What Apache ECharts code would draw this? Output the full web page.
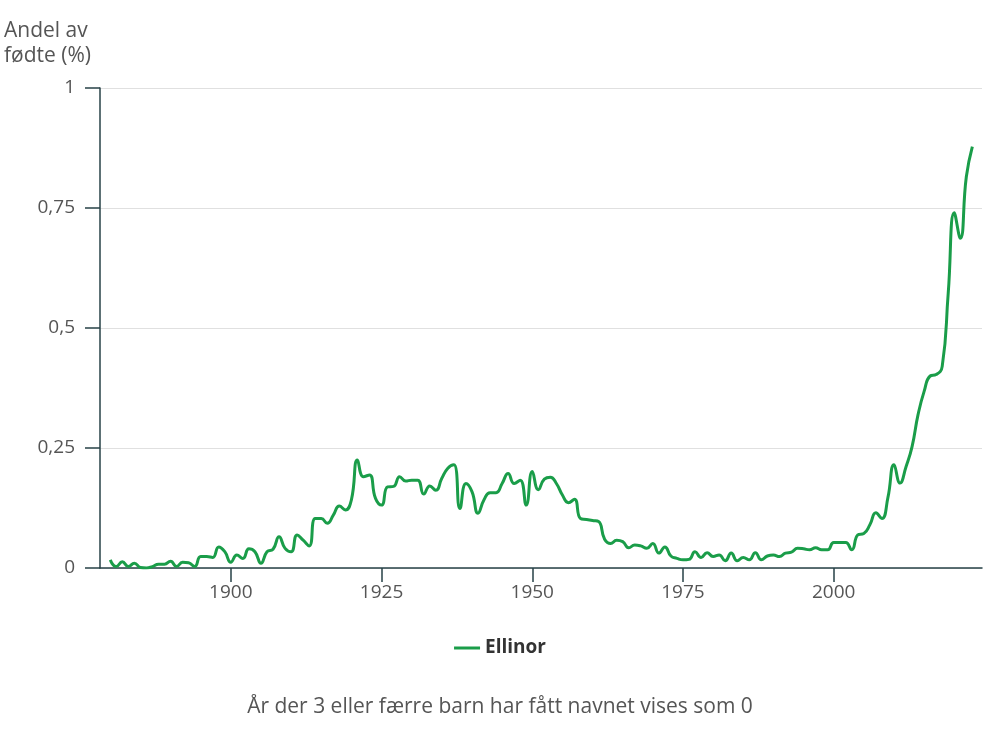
<!DOCTYPE html>
<html>
<head>
<meta charset="utf-8">
<script src="https://cdn.jsdelivr.net/npm/echarts@6/dist/echarts.min.js"></script>
<style>
html,body{margin:0;padding:0;background:#fff;}
#chart{width:1000px;height:750px;}
</style>
</head>
<body>
<div id="chart"></div>
<script>
const seriesName = 'Ellinor';
const firstYear = 1880;
const shares = [
  0.017, 0.003, 0.013, 0.003, 0.010, 0.001, 0.000, 0.003, 0.008, 0.008,
  0.014, 0.003, 0.012, 0.011, 0.003, 0.024, 0.024, 0.022, 0.044, 0.034,
  0.012, 0.027, 0.020, 0.040, 0.034, 0.010, 0.034, 0.039, 0.065, 0.041,
  0.034, 0.069, 0.058, 0.046, 0.103, 0.103, 0.093, 0.110, 0.129, 0.121,
  0.142, 0.225, 0.190, 0.194, 0.145, 0.131, 0.169, 0.170, 0.190, 0.181,
  0.183, 0.183, 0.154, 0.171, 0.162, 0.187, 0.208, 0.215, 0.124, 0.176,
  0.159, 0.114, 0.142, 0.157, 0.157, 0.176, 0.197, 0.176, 0.183, 0.131,
  0.201, 0.163, 0.185, 0.189, 0.176, 0.152, 0.136, 0.143, 0.103, 0.101,
  0.099, 0.097, 0.060, 0.051, 0.058, 0.055, 0.042, 0.048, 0.046, 0.041,
  0.051, 0.031, 0.044, 0.025, 0.020, 0.017, 0.018, 0.034, 0.022, 0.032,
  0.024, 0.027, 0.015, 0.031, 0.015, 0.022, 0.017, 0.032, 0.017, 0.025,
  0.027, 0.024, 0.031, 0.033, 0.041, 0.040, 0.038, 0.042, 0.038, 0.038,
  0.053, 0.053, 0.053, 0.038, 0.069, 0.072, 0.090, 0.115, 0.103, 0.147,
  0.215, 0.177, 0.211, 0.253, 0.320, 0.368, 0.400, 0.403, 0.420, 0.573,
  0.740, 0.687, 0.815, 0.878
];
const years = shares.map((_, i) => firstYear + i);
const xTickYears = [1900, 1925, 1950, 1975, 2000];
const yTicks = [0, 0.25, 0.5, 0.75, 1];
const yAxisTitle = 'Andel av\nfødte (%)';
const footnote = 'År der 3 eller færre barn har fått navnet vises som 0';

const fontFamily = '"Open Sans", "Noto Sans", sans-serif';
const chart = echarts.init(document.getElementById('chart'), null, {renderer: 'canvas'});
chart.setOption({
  animation: false,
  backgroundColor: '#ffffff',
  textStyle: {fontFamily: fontFamily},
  title: [
    {
      text: yAxisTitle,
      left: 4, top: 19,
      padding: 0,
      textStyle: {fontFamily: fontFamily, fontSize: 21, fontWeight: 'normal', color: '#555555', lineHeight: 25}
    },
    {
      text: footnote,
      left: 'center', top: 695,
      padding: 0,
      textStyle: {fontFamily: fontFamily, fontSize: 21, fontWeight: 'normal', color: '#555555', lineHeight: 24}
    }
  ],
  legend: {
    top: 637,
    left: 'center',
    padding: 0,
    icon: 'rect',
    itemWidth: 26,
    itemHeight: 3,
    itemGap: 10,
    textStyle: {fontFamily: fontFamily, fontSize: 19, fontWeight: 'bold', color: '#333333', lineHeight: 22},
    data: [{name: seriesName, icon: 'rect'}]
  },
  grid: {left: 100, right: 18, top: 88, bottom: 182, containLabel: false},
  xAxis: {
    type: 'value',
    min: 1878.3,
    max: 2024.6,
    axisLine: {show: true, lineStyle: {color: '#274247', width: 1.5}},
    axisTick: {show: true, length: 14, customValues: xTickYears, lineStyle: {color: '#274247', width: 1.5}},
    axisLabel: {
      show: true, customValues: xTickYears, margin: 15, fontSize: 19, color: '#555555', fontFamily: fontFamily,
      formatter: v => String(v)
    },
    splitLine: {show: false}
  },
  yAxis: {
    type: 'value',
    min: 0,
    max: 1,
    interval: 0.25,
    axisLine: {show: true, lineStyle: {color: '#274247', width: 1.5}},
    axisTick: {show: true, length: 15, customValues: yTicks, lineStyle: {color: '#274247', width: 1.5}},
    axisLabel: {
      margin: 25, fontSize: 19, color: '#555555', fontFamily: fontFamily,
      customValues: yTicks,
      formatter: v => String(v).replace('.', ',')
    },
    splitLine: {show: true, lineStyle: {color: '#e0e0e0', width: 1}}
  },
  series: [{
    name: seriesName,
    type: 'line',
    data: years.map((y, i) => [y, shares[i]]),
    smooth: 0.5,
    symbol: 'none',
    lineStyle: {color: '#1a9d49', width: 3},
    itemStyle: {color: '#1a9d49'}
  }]
});
</script>
</body>
</html>
